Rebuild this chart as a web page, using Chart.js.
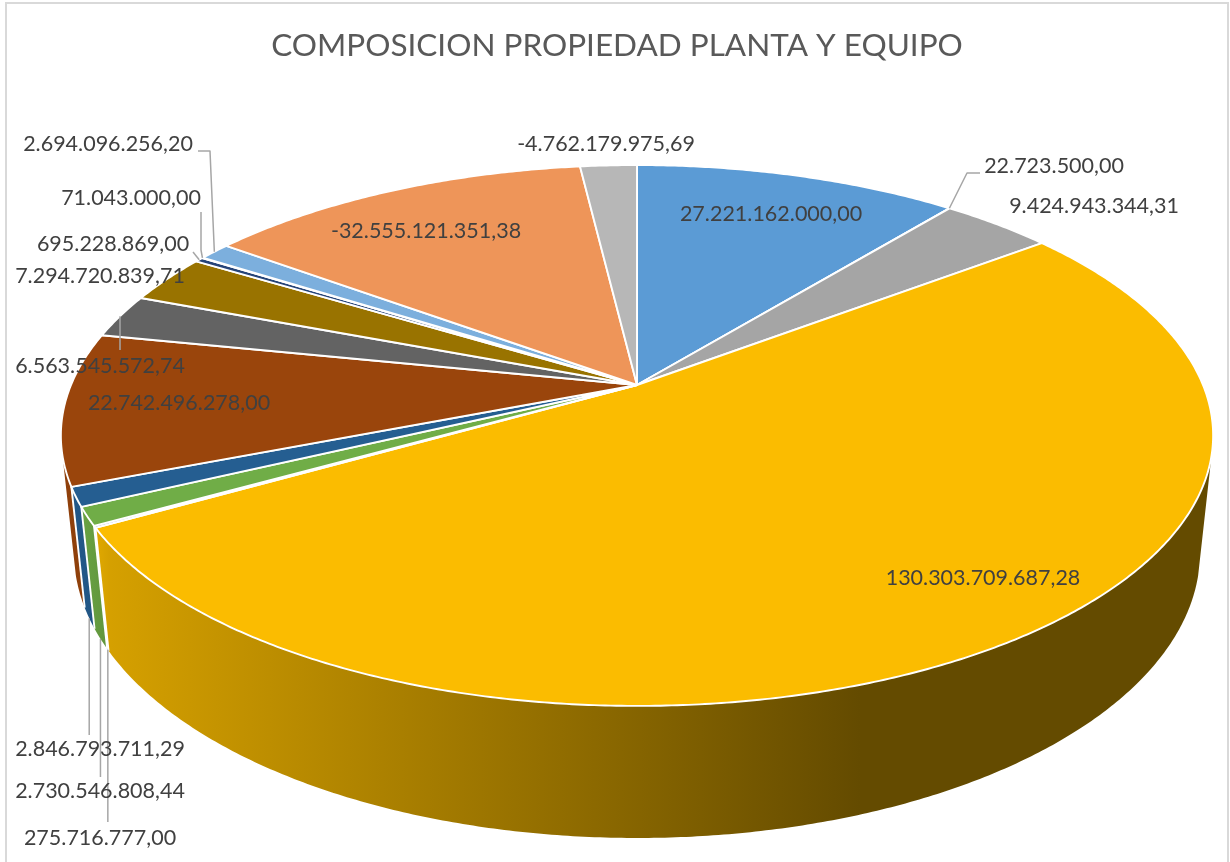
<!DOCTYPE html>
<html lang="es">
<head>
<meta charset="utf-8">
<title>Composicion propiedad planta y equipo</title>
<script src="https://cdn.jsdelivr.net/npm/chart.js@4"></script>
<style>
  html, body { margin: 0; padding: 0; background: #fff; overflow: hidden; }
  canvas { display: block; }
</style>
</head>
<body>
<canvas id="grafPropiedad" width="1230" height="862"></canvas>
<script>
"use strict";

const titulo = "COMPOSICION PROPIEDAD PLANTA Y EQUIPO";

const valores = [
  27221162000, 22723500, 9424943344.31, 130303709687.28, 275716777,
  2730546808.44, 2846793711.29, 22742496278, 6563545572.74, 7294720839.71,
  695228869, 71043000, 2694096256.20, -32555121351.38, -4762179975.69
];

const colores = [
  "#5b9bd5", "#ed7d31", "#a5a5a5", "#fbbc00", "#4472c4",
  "#70ad47", "#255e91", "#9a450c", "#636363", "#997300",
  "#264478", "#43682b", "#7cafdd", "#ee9559", "#b7b7b7"
];

// centro de cada etiqueta, a mano como en el original
const etiquetaX = [771, 1054, 1094, 983, 100, 100, 100, 179, 100, 100, 113, 131, 108, 426, 606];
const etiquetaY = [214, 166, 206, 578, 838, 791, 749, 403, 366, 276, 244, 198, 144, 231, 144];

// guias: arista donde nacen (0 arriba, 1 abajo) y codos; x null = misma x del arranque
const guias = [
  null,
  { nivel: 0, codos: [[967, 173], [980, 173]] },
  null, null,
  { nivel: 1, codos: [[null, 822]] },
  { nivel: 1, codos: [[null, 777]] },
  { nivel: 1, codos: [[null, 735]] },
  null,
  { nivel: 0, codos: [[null, 350]] },
  null,
  { nivel: 0, codos: [[193, 252]] },
  { nivel: 0, codos: [[201, 250], [201, 212]] },
  { nivel: 0, codos: [[210, 151], [198, 151]] },
  null, null
];

const COLOR_TEXTO = "#404040";
const COLOR_GUIA = "#a6a6a6";
const FUENTE_ETIQUETA = "21.5px Lato, sans-serif";

// perspectiva del disco: ajustada a mano contra la elipse del original
const CX = 637, CY = 385;
const RX = 566, RY = 261, FUGA = 0.1867;
const ALTO = 117.6, ENCOGE = 0.0225;

// parte del costado que se ve de frente
const FRENTE_INI = 15 * Math.PI / 180, FRENTE_FIN = 165 * Math.PI / 180;

function proyectar(a, nivel) {
  const u = Math.cos(a), v = Math.sin(a);
  const w = 1 - FUGA * v + nivel * ENCOGE;
  return [CX + RX * u / w, CY + (RY * v + nivel * ALTO) / w];
}

function arista(a0, a1, nivel) {
  const pasos = Math.max(2, Math.ceil(Math.abs(a1 - a0) / 0.008));
  const pts = [];
  for (let i = 0; i <= pasos; i++) pts.push(proyectar(a0 + (a1 - a0) * i / pasos, nivel));
  return pts;
}

function oscurecer(hex, f) {
  const n = parseInt(hex.slice(1), 16);
  const c = [n >> 16, (n >> 8) & 255, n & 255].map(x => Math.round(x * f));
  return `rgb(${c[0]},${c[1]},${c[2]})`;
}

function formato(v) {
  const [ent, dec] = Math.abs(v).toFixed(2).split(".");
  return (v < 0 ? "-" : "") + ent.replace(/\B(?=(\d{3})+$)/g, ".") + "," + dec;
}

const pastel3d = {
  id: "pastel3d",

  beforeDraw(chart) {
    const ctx = chart.ctx;
    ctx.save();
    ctx.strokeStyle = "#d9d9d9";
    ctx.lineWidth = 2;
    ctx.strokeRect(6, 3, 1222, 900);
    ctx.restore();
  },

  // Chart.js calcula los angulos; el dibujo plano se sustituye por el disco en perspectiva
  beforeDatasetDraw() {
    return false;
  },

  afterDatasetsDraw(chart) {
    const ctx = chart.ctx;
    const arcos = chart.getDatasetMeta(0).data;
    ctx.save();

    // costado
    arcos.forEach((el, i) => {
      const a0 = Math.max(el.startAngle, FRENTE_INI);
      const a1 = Math.min(el.endAngle, FRENTE_FIN);
      if (a0 >= a1) return;
      const grad = ctx.createLinearGradient(85, 0, 860, 0);
      grad.addColorStop(0, oscurecer(colores[i], 0.93));
      grad.addColorStop(0.032, oscurecer(colores[i], 0.85));
      grad.addColorStop(1, oscurecer(colores[i], 0.4));
      ctx.beginPath();
      arista(a0, a1, 0).concat(arista(a1, a0, 1)).forEach(p => ctx.lineTo(p[0], p[1]));
      ctx.closePath();
      ctx.fillStyle = grad;
      ctx.fill();
    });

    ctx.strokeStyle = "#fff";
    ctx.lineWidth = 1.9;
    arcos.forEach(el => {
      if (Math.sin(el.endAngle) < 0.1) return;
      const [p0, p1] = [proyectar(el.endAngle, 0), proyectar(el.endAngle, 1)];
      ctx.beginPath();
      ctx.moveTo(p0[0], p0[1]);
      ctx.lineTo(p1[0], p1[1]);
      ctx.stroke();
    });

    // cara superior
    ctx.lineJoin = "round";
    arcos.forEach((el, i) => {
      ctx.beginPath();
      ctx.moveTo(CX, CY);
      arista(el.startAngle, el.endAngle, 0).forEach(p => ctx.lineTo(p[0], p[1]));
      ctx.closePath();
      ctx.fillStyle = colores[i];
      ctx.fill();
      ctx.stroke();
    });

    // guias
    ctx.strokeStyle = COLOR_GUIA;
    ctx.lineWidth = 1.5;
    arcos.forEach((el, i) => {
      if (!guias[i]) return;
      const ini = proyectar((el.startAngle + el.endAngle) / 2, guias[i].nivel);
      ctx.beginPath();
      ctx.moveTo(ini[0], ini[1]);
      guias[i].codos.forEach(c => ctx.lineTo(c[0] === null ? ini[0] : c[0], c[1]));
      ctx.stroke();
    });

    // etiquetas
    ctx.font = FUENTE_ETIQUETA;
    ctx.fillStyle = COLOR_TEXTO;
    ctx.textAlign = "center";
    ctx.textBaseline = "middle";
    valores.forEach((v, i) => ctx.fillText(formato(v), etiquetaX[i], etiquetaY[i]));

    ctx.restore();
  }
};

document.addEventListener("DOMContentLoaded", () => {
  new Chart(document.getElementById("grafPropiedad"), {
    type: "pie",
    data: {
      labels: valores.map(formato),
      datasets: [{ data: valores, backgroundColor: colores }]
    },
    options: {
      responsive: false,
      animation: false,
      layout: { padding: { left: 4 } },
      plugins: {
        legend: { display: false },
        tooltip: { enabled: false },
        title: {
          display: true,
          text: titulo,
          color: "#595959",
          font: { family: "Lato, sans-serif", size: 31.5, weight: "normal" },
          padding: { top: 27, bottom: 10 }
        }
      }
    },
    plugins: [pastel3d]
  });
});
</script>
</body>
</html>
